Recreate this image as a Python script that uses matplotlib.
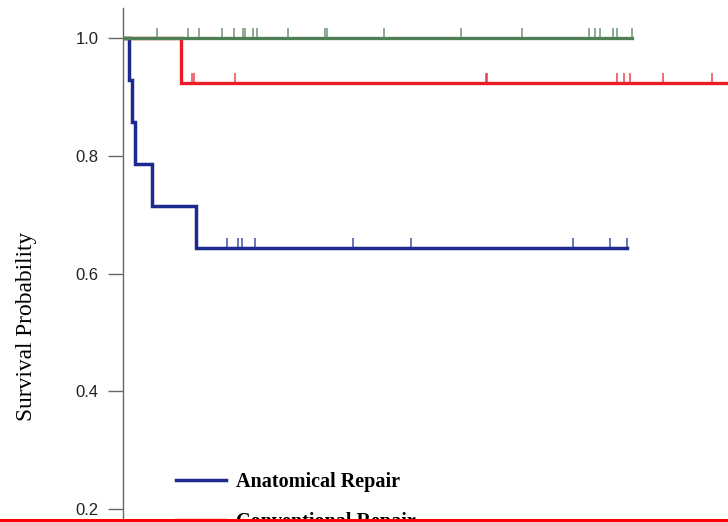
import numpy as np
import matplotlib.pyplot as plt
from matplotlib.patches import Rectangle

# Kaplan-Meier curves (time in months)
anat_t = [0, 1.6, 2.25, 3.1, 7.2, 18.2, 126.0]
anat_s = [1.0, 0.929, 0.857, 0.786, 0.714, 0.643, 0.643]
anat_cens = [25.9, 28.7, 29.7, 33.0, 57.5, 72.0, 112.4, 121.8, 125.9]

conv_t = [0, 14.5, 160.0]
conv_s = [1.0, 0.923, 0.923]
conv_cens = [17.2, 17.7, 28.0, 90.75, 91.0, 123.6, 125.25, 126.75, 135.1, 147.3]

other_t = [0, 127.3]
other_s = [1.0, 1.0]
other_cens = [8.4, 16.3, 18.9, 24.7, 27.8, 29.9, 30.4, 32.4, 33.4, 41.3, 50.6,
              51.1, 65.2, 84.5, 99.8, 116.4, 117.9, 119.3, 122.6, 123.4, 127.3]

labels = ['Anatomical Repair', 'Conventional Repair']
yticks = [0.2, 0.4, 0.6, 0.8, 1.0]


def surv_at(t, s, c):
    idx = np.searchsorted(t, c, side='right') - 1
    return np.array(s)[idx]


fig = plt.figure(figsize=(7.28, 5.22), dpi=100)
# axes run off the bottom and right edge, like the cropped original
ax = fig.add_axes([123/728, (522-626.75)/522, 640/728, (626.75-8)/522])

curves = [
    (anat_t, anat_s, anat_cens, '#1b2a8c', 2.5, labels[0], 2),
    (conv_t, conv_s, conv_cens, '#e81c24', 2.4, labels[1], 3),
    (other_t, other_s, other_cens, '#4f7f55', 2.4, '_nolegend_', 4),
]
handles = {}
for t, s, cens, col, lw, lab, z in curves:
    ln, = ax.step(t, s, where='post', color=col, lw=lw, label=lab,
                  solid_joinstyle='miter', zorder=z)
    ax.plot(cens, surv_at(t, s, cens), linestyle='none', marker=2,
            markersize=7, markeredgewidth=1.2, color=col, alpha=0.75, zorder=z)
    handles[lab] = ln

ax.set_xlim(0, 160)
ax.set_ylim(0, (626.75-8)/588.75)
ax.set_yticks(yticks)
ax.set_yticklabels([f'{v:.1f}' for v in yticks], family='Liberation Sans',
                   fontsize=12, color='#222222')
ax.tick_params(axis='y', length=10.8, width=1, color='#666666', pad=7)
ax.set_xticks([])
for side in ['top', 'right', 'bottom']:
    ax.spines[side].set_visible(False)
ax.spines['left'].set_color('#666666')
ax.spines['left'].set_linewidth(1)

fig.text(27/728, 1-326/522, 'Survival Probability', rotation=90,
         family='Liberation Serif', fontsize=16.8, ha='center', va='center')

ax.legend([handles[labels[0]], handles[labels[1]]], labels,
          loc='upper left', bbox_to_anchor=(176/728, 1-472/522),
          bbox_transform=fig.transFigure, frameon=False,
          prop={'family': 'Liberation Serif', 'weight': 'bold', 'size': 14.5},
          handlelength=2.5, handletextpad=0.5, labelspacing=0.99,
          borderaxespad=0, borderpad=0)

# red highlight bar along the bottom edge
fig.add_artist(Rectangle((0, 0), 1, 3.5/522, transform=fig.transFigure,
                         color='#ff0000', lw=0, zorder=10))

fig.savefig('out.png', dpi=100)
